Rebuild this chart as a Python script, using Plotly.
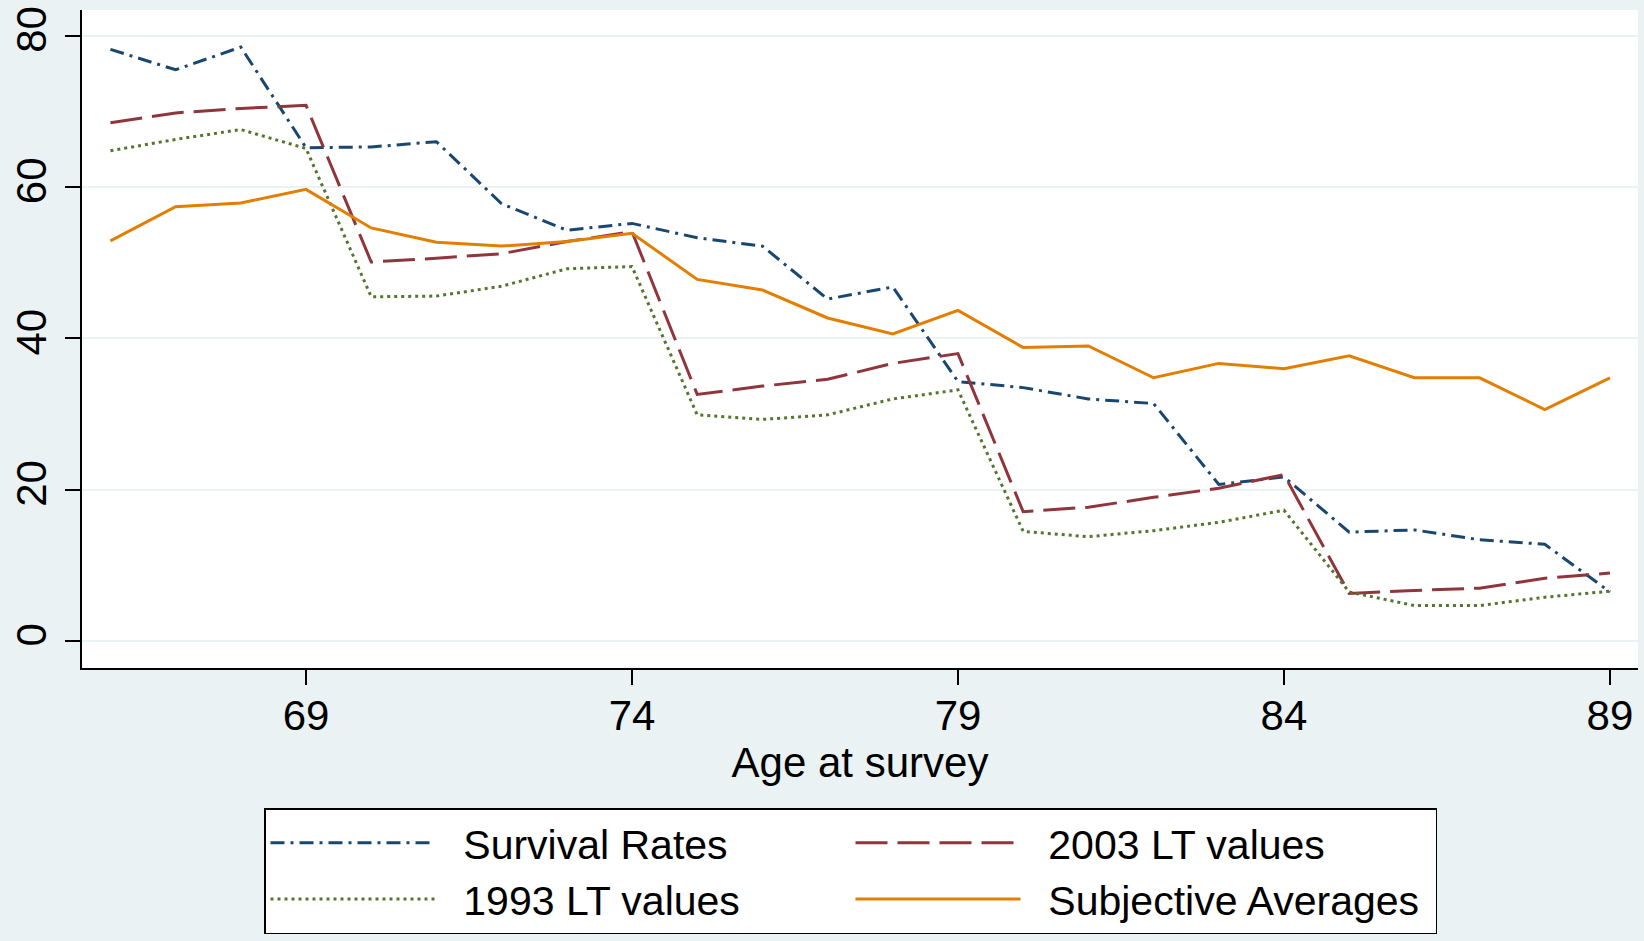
import plotly.graph_objects as go

ages = list(range(66, 90))

survival_rates = [78.2, 75.5, 78.5, 65.2, 65.3, 66.0, 57.8, 54.3, 55.2, 53.3, 52.2, 45.2,
                  46.8, 34.3, 33.5, 32.0, 31.4, 20.7, 21.7, 14.4, 14.7, 13.4, 12.8, 6.5]
lt_2003 = [68.5, 69.8, 70.4, 70.8, 50.1, 50.6, 51.2, 52.8, 54.1, 32.6, 33.7, 34.6,
           36.7, 38.0, 17.1, 17.7, 19.0, 20.2, 22.0, 6.3, 6.7, 7.0, 8.3, 9.0]
lt_1993 = [64.8, 66.3, 67.6, 65.1, 45.5, 45.6, 46.9, 49.2, 49.5, 29.9, 29.3, 29.9,
           32.0, 33.2, 14.5, 13.8, 14.6, 15.7, 17.3, 6.5, 4.7, 4.7, 5.8, 6.6]
subjective = [52.9, 57.4, 57.9, 59.7, 54.6, 52.7, 52.2, 52.8, 53.9, 47.8, 46.4, 42.7,
              40.6, 43.7, 38.8, 39.0, 34.8, 36.7, 36.0, 37.7, 34.8, 34.8, 30.6, 34.8]

series_names = ["Survival Rates", "2003 LT values", "1993 LT values", "Subjective Averages"]

x_ticks = [69, 74, 79, 84, 89]
y_ticks = [0, 20, 40, 60, 80]

FONT = "Liberation Sans, Arial, sans-serif"
BG = "#eaf2f3"
PAD = "\u00a0\u00a0"

fig = go.Figure()
fig.add_trace(go.Scatter(x=ages, y=survival_rates, mode="lines", name=PAD + series_names[0],
                         line=dict(color="#1a476f", width=3, dash="14px,6px,3px,6px")))
fig.add_trace(go.Scatter(x=ages, y=lt_2003, mode="lines", name=PAD + series_names[1],
                         line=dict(color="#90353b", width=3, dash="32px,10px")))
fig.add_trace(go.Scatter(x=ages, y=lt_1993, mode="lines", name=PAD + series_names[2],
                         line=dict(color="#55752f", width=3, dash="3px,4px")))
fig.add_trace(go.Scatter(x=ages, y=subjective, mode="lines", name=PAD + series_names[3],
                         line=dict(color="#e37e00", width=3)))

fig.update_layout(
    width=1644, height=941,
    margin=dict(l=82, r=6, t=6, b=273),
    paper_bgcolor=BG, plot_bgcolor="white",
    font=dict(family=FONT, size=42, color="black"),
    showlegend=True,
    legend=dict(
        orientation="h",
        x=(264 - 82) / 1556, y=(668 - 809) / 662,
        xanchor="left", yanchor="top",
        bgcolor="white", bordercolor="black", borderwidth=1.5,
        font=dict(family=FONT, size=41, color="black"),
        entrywidth=405, itemwidth=165,
        traceorder="normal",
    ),
    xaxis=dict(
        range=[65.564, 89.43], tickvals=x_ticks, ticktext=[str(v) for v in x_ticks],
        showgrid=False, zeroline=False,
        showline=True, linecolor="black", linewidth=1.5,
        ticks="outside", ticklen=15, tickwidth=1.5, tickcolor="black",
        tickfont=dict(family=FONT, size=42), ticklabelstandoff=-5,
        title=dict(text="Age at survey", font=dict(family=FONT, size=42), standoff=0),
    ),
    yaxis=dict(
        range=[-3.55, 83.4], tickvals=y_ticks, ticktext=[str(v) for v in y_ticks],
        showgrid=True, gridcolor=BG, gridwidth=2, zeroline=False,
        showline=True, linecolor="black", linewidth=1.5,
        ticks="outside", ticklen=15, tickwidth=1.5, tickcolor="black",
        tickangle=-90, ticklabelstandoff=2,
        tickfont=dict(family=FONT, size=42),
    ),
)

fig.write_html("out.html",
               config={"displayModeBar": False},
               post_script="document.body.style.margin='0';document.body.style.background='" + BG + "';")
